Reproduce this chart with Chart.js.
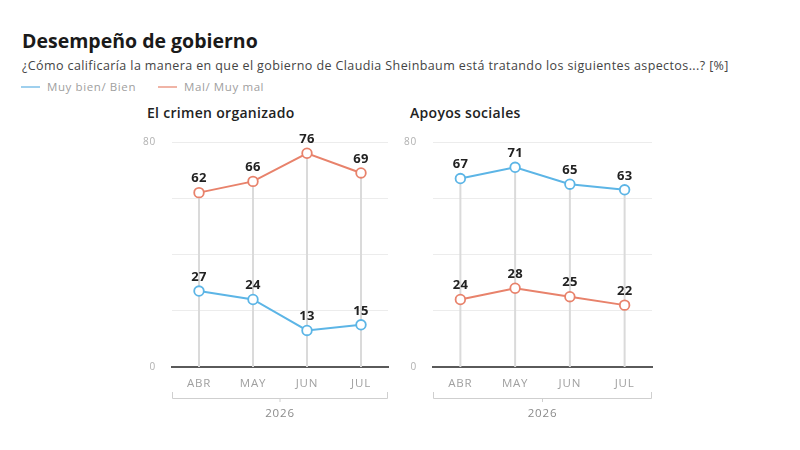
<!DOCTYPE html>
<html>
<head>
<meta charset="utf-8">
<script src="https://cdn.jsdelivr.net/npm/chart.js@4.4.1/dist/chart.umd.min.js"></script>
<style>
  body { margin: 0; background: #fff; font-family: "Open Sans", sans-serif; }
  #wrap { position: relative; width: 800px; height: 450px; overflow: hidden; }
  .txt { position: absolute; white-space: nowrap; }
  #title { left: 22px; top: 27px; font-size: 19.5px; font-weight: 700; color: #1a1a1a; }
  #sub { left: 22px; top: 57px; font-size: 12.5px; letter-spacing: 0.4px; color: #444; }
  .leg { top: 79px; font-size: 11.5px; letter-spacing: 0.6px; color: #a0a0a0; }
  .leg i { display: inline-block; width: 19px; height: 2px; vertical-align: middle; margin-right: 7px; position: relative; top: -1px; }
  .panel { top: 103px; font-size: 14px; letter-spacing: 0.3px; font-weight: 600; color: #222; }
  canvas { position: absolute; }
</style>
</head>
<body>
<div id="wrap">
  <div id="title" class="txt">Desempeño de gobierno</div>
  <div id="sub" class="txt">¿Cómo calificaría la manera en que el gobierno de Claudia Sheinbaum está tratando los siguientes aspectos...? [%]</div>
  <div class="txt leg" style="left:21px"><i style="background:#9fd0ee"></i>Muy bien/ Bien</div>
  <div class="txt leg" style="left:158px"><i style="background:#f0b4a6"></i>Mal/ Muy mal</div>
  <div class="txt panel" style="left:147px">El crimen organizado</div>
  <div class="txt panel" style="left:410px">Apoyos sociales</div>
  <canvas id="crimen" width="260" height="310" style="left:140px;top:120px"></canvas>
  <canvas id="apoyos" width="263" height="310" style="left:401px;top:120px"></canvas>
</div>
<script>
const months = ["ABR", "MAY", "JUN", "JUL"];
const yearLabel = "2026";
const yTicks = [0, 80];

const crimenBien = [27, 24, 13, 15];
const crimenMal = [62, 66, 76, 69];

const apoyosBien = [67, 71, 65, 63];
const apoyosMal = [24, 28, 25, 22];

const blue = "#5cb5e6";
const red = "#e8826b";

// wider spacing for the axis text
const spacing = {
  id: "spacing",
  beforeDraw(chart) {
    chart.ctx.letterSpacing = "0.8px";
  }
};

// vertical line from the highest point of each month down to 0
const dropLines = {
  id: "dropLines",
  beforeDatasetsDraw(chart) {
    const ctx = chart.ctx;
    const x = chart.scales.x;
    const y = chart.scales.y;
    ctx.save();
    ctx.strokeStyle = "#dadada";
    ctx.lineWidth = 2;
    months.forEach((m, i) => {
      const top = Math.max(...chart.data.datasets.map(d => d.data[i]));
      const px = x.getPixelForValue(i);
      ctx.beginPath();
      ctx.moveTo(px, y.getPixelForValue(top));
      ctx.lineTo(px, y.getPixelForValue(0));
      ctx.stroke();
    });
    ctx.restore();
  }
};

const valueLabels = {
  id: "valueLabels",
  afterDatasetsDraw(chart) {
    const ctx = chart.ctx;
    ctx.save();
    ctx.letterSpacing = "0.3px";
    ctx.font = "bold 13px 'Open Sans'";
    ctx.fillStyle = "#222";
    ctx.textAlign = "center";
    ctx.textBaseline = "middle";
    chart.data.datasets.forEach((ds, di) => {
      chart.getDatasetMeta(di).data.forEach((pt, i) => {
        ctx.fillText(ds.data[i], pt.x, pt.y - 14);
      });
    });
    ctx.restore();
  }
};

// bracket under the months with the year
const yearBracket = {
  id: "yearBracket",
  afterDraw(chart) {
    const ctx = chart.ctx;
    const a = chart.chartArea;
    const yb = a.bottom + 31;
    const mid = (a.left + a.right) / 2;
    ctx.save();
    ctx.strokeStyle = "#cfcfcf";
    ctx.lineWidth = 1;
    ctx.beginPath();
    ctx.moveTo(a.left + 0.5, yb - 6);
    ctx.lineTo(a.left + 0.5, yb + 0.5);
    ctx.lineTo(a.right - 0.5, yb + 0.5);
    ctx.lineTo(a.right - 0.5, yb - 6);
    ctx.moveTo(mid, yb);
    ctx.lineTo(mid, yb + 4);
    ctx.stroke();
    ctx.letterSpacing = "0.8px";
    ctx.font = "11.5px 'Open Sans'";
    ctx.fillStyle = "#8a8a8a";
    ctx.textAlign = "center";
    ctx.textBaseline = "middle";
    ctx.fillText(yearLabel, mid, yb + 16);
    ctx.restore();
  }
};

function makeChart(id, bien, mal) {
  const ctx = document.getElementById(id).getContext("2d");
  return new Chart(ctx, {
    type: "line",
    data: {
      labels: months,
      datasets: [
        {
          label: "Mal/ Muy mal",
          data: mal,
          borderColor: red,
          borderWidth: 2,
          pointBackgroundColor: "#fff",
          pointBorderColor: red,
          pointBorderWidth: 1.8,
          pointRadius: 4.8,
          tension: 0,
          clip: false,
        },
        {
          label: "Muy bien/ Bien",
          data: bien,
          borderColor: blue,
          borderWidth: 2,
          pointBackgroundColor: "#fff",
          pointBorderColor: blue,
          pointBorderWidth: 1.8,
          pointRadius: 4.8,
          tension: 0,
          clip: false,
        },
      ],
    },
    options: {
      responsive: false,
      animation: false,
      layout: { padding: { top: 21, right: 12, left: 0, bottom: 0 } },
      plugins: { legend: { display: false }, tooltip: { enabled: false } },
      scales: {
        x: {
          offset: true,
          grid: { display: false, drawTicks: false },
          border: { display: true, color: "#5a5a5a", width: 2 },
          ticks: { color: "#a0a0a0", font: { family: "Open Sans", size: 11.5 }, padding: 10 },
          afterFit(scale) { scale.height = 63; },
        },
        y: {
          min: 0,
          max: 80,
          grid: { color: "#ececec", lineWidth: 1, drawTicks: false },
          border: { display: false },
          ticks: {
            stepSize: 20,
            color: "#b0b0b0",
            font: { family: "Open Sans", size: 10 },
            padding: 16,
            callback: v => (yTicks.includes(v) ? v : ""),
          },
          afterFit(scale) { scale.width = 32; },
        },
      },
    },
    plugins: [spacing, dropLines, valueLabels, yearBracket],
  });
}

document.addEventListener("DOMContentLoaded", () => {
  makeChart("crimen", crimenBien, crimenMal);
  makeChart("apoyos", apoyosBien, apoyosMal);
});
</script>
</body>
</html>
